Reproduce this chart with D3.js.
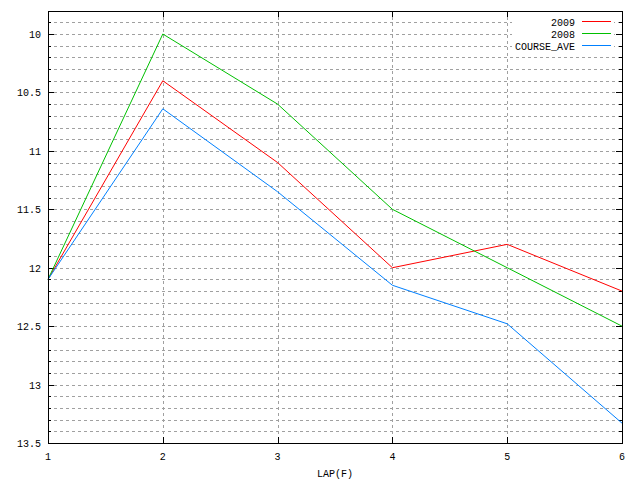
<!DOCTYPE html>
<html><head><meta charset="utf-8">
<script src="https://cdn.jsdelivr.net/npm/d3@7"></script>
<style>
body{margin:0;background:#fff;}
text{font-family:"Liberation Mono","DejaVu Sans Mono",monospace;font-size:10px;fill:#000;}
</style></head><body>
<svg id="c" width="640" height="480"></svg>
<script>
const laps = [1, 2, 3, 4, 5, 6];
const s2009 = [12.1, 10.4, 11.1, 12.0, 11.8, 12.2];
const s2008 = [12.1, 10.0, 10.6, 11.5, 12.0, 12.5];
const sCourseAve = [12.1, 10.64, 11.35, 12.15, 12.48, 13.33];
const seriesNames = ["2009", "2008", "COURSE_AVE"];
const seriesColors = ["#ff0000", "#00c000", "#0080ff"];
const yMajorTicks = [10, 10.5, 11, 11.5, 12, 12.5, 13, 13.5];
const yMinorTicks = d3.range(99, 136).map(v => v / 10);
const xLabel = "LAP(F)";

const L = 48, R = 622, T = 11, B = 443;
const svg = d3.select("#c");
const x = d3.scaleLinear().domain([1, 6]).range([L, R]);
const y = d3.scaleLinear().domain([9.803, 13.5]).range([T, B]);

const g = svg.append("g").attr("shape-rendering", "crispEdges");
// horizontal grid (every 0.1)
g.selectAll(".hg").data(yMinorTicks.filter(v => v < 13.5)).enter().append("line")
  .attr("x1", L).attr("x2", R).attr("y1", d => Math.round(y(d)) + 0.5).attr("y2", d => Math.round(y(d)) + 0.5)
  .attr("stroke", "#a0a0a0").attr("stroke-dasharray", "3,3");
// vertical grid
g.selectAll(".vg").data(laps.slice(1, -1)).enter().append("line")
  .attr("y1", T).attr("y2", B).attr("x1", d => Math.round(x(d)) + 0.5).attr("x2", d => Math.round(x(d)) + 0.5)
  .attr("stroke", "#a0a0a0").attr("stroke-dasharray", "3,3");

// axes using d3 axis generators
const yLeft = g.append("g").attr("transform", `translate(${L},0)`)
  .call(d3.axisRight(y).tickValues(yMajorTicks).tickSize(6).tickFormat(""));
const yLeftMinor = g.append("g").attr("transform", `translate(${L},0)`)
  .call(d3.axisRight(y).tickValues(yMinorTicks).tickSize(3).tickFormat(""));
const yRight = g.append("g").attr("transform", `translate(${R},0)`)
  .call(d3.axisLeft(y).tickValues(yMajorTicks).tickSize(6).tickFormat(""));
const yRightMinor = g.append("g").attr("transform", `translate(${R},0)`)
  .call(d3.axisLeft(y).tickValues(yMinorTicks).tickSize(3).tickFormat(""));
const xBot = g.append("g").attr("transform", `translate(0,${B})`)
  .call(d3.axisTop(x).tickValues(laps).tickSize(6).tickFormat(""));
const xTop = g.append("g").attr("transform", `translate(0,${T})`)
  .call(d3.axisBottom(x).tickValues(laps).tickSize(6).tickFormat(""));
[yLeft, yLeftMinor, yRight, yRightMinor, xBot, xTop].forEach(a => {
  a.select(".domain").remove();
  a.selectAll("line").attr("stroke", "#000");
});

// tick labels
svg.selectAll(".yl").data(yMajorTicks).enter().append("text")
  .attr("x", 41).attr("y", d => y(d) + 4).attr("text-anchor", "end").text(d => d3.format("")(d));
svg.selectAll(".xl").data(laps).enter().append("text")
  .attr("x", d => x(d)).attr("y", 460).attr("text-anchor", "middle").text(d => d);
svg.append("text").attr("x", 335).attr("y", 477).attr("text-anchor", "middle").text(xLabel);

// series lines
const data = [s2009, s2008, sCourseAve];
const line = d3.line().x((d, i) => x(laps[i])).y(d => y(d));
svg.selectAll(".ser").data(data).enter().append("path")
  .attr("d", line).attr("fill", "none").attr("stroke", (d, i) => seriesColors[i]).attr("stroke-width", 1);

// border
svg.append("rect").attr("x", L + 0.5).attr("y", T + 0.5).attr("width", R - L).attr("height", B - T)
  .attr("fill", "none").attr("stroke", "#000").attr("shape-rendering", "crispEdges");

// legend
const lg = svg.append("g");
seriesNames.forEach((n, i) => {
  const yy = 21.5 + i * 12;
  lg.append("rect").attr("x", 512).attr("y", yy - 5).attr("width", 102).attr("height", 10).attr("fill", "#fff");
  lg.append("text").attr("x", 575).attr("y", yy + 4).attr("text-anchor", "end").text(n);
  lg.append("line").attr("x1", 582).attr("x2", 611).attr("y1", yy).attr("y2", yy)
    .attr("stroke", seriesColors[i]).attr("shape-rendering", "crispEdges");
});
</script></body></html>
